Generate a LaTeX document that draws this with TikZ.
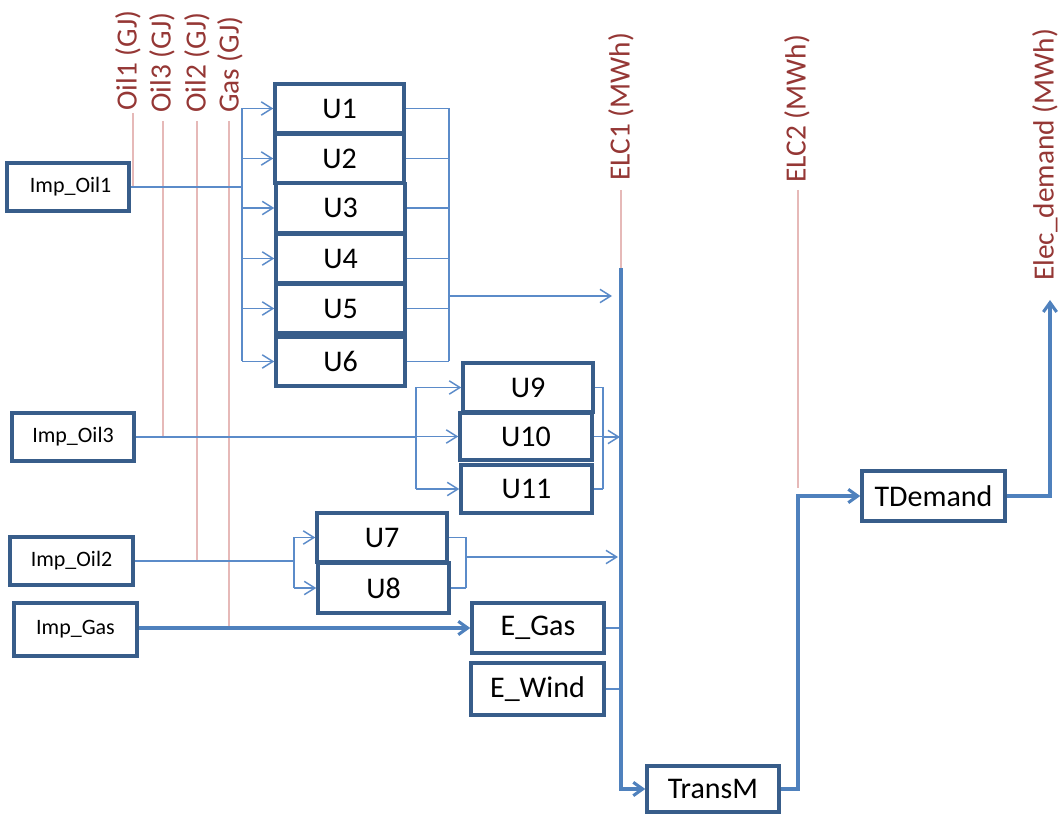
\documentclass[tikz,border=0pt]{standalone}
\usepackage{fontspec}
\setmainfont{Carlito}
\usetikzlibrary{arrows.meta}
\definecolor{boxc}{HTML}{385D8A}
\definecolor{linec}{HTML}{5B8BC9}
\definecolor{fatc}{HTML}{4F81BD}
\definecolor{pinkc}{HTML}{E6B9B8}
\definecolor{labc}{HTML}{953735}
\begin{document}
\begin{tikzpicture}[x=0.75pt,y=-0.75pt,
  ubox/.style={draw=boxc,line width=2.6pt,fill=white,inner sep=0pt,
    font=\fontsize{22.5}{25}\selectfont},
  ibox/.style={draw=boxc,line width=2.6pt,fill=white,inner sep=0pt,
    font=\fontsize{16.5}{19}\selectfont},
  lab/.style={rotate=90,anchor=west,inner sep=0pt,text=labc,
    font=\fontsize{22}{25}\selectfont},
  conn/.style={draw=linec,line width=1.1pt},
  conna/.style={conn,-{Straight Barb[length=8pt,width=10pt]}},
  fat/.style={draw=fatc,line width=2.3pt},
  fata/.style={fat,-{Straight Barb[length=7pt,width=10pt]}},
  pinkline/.style={draw=pinkc,line width=1.6pt}]
\useasboundingbox (0,0) rectangle (1061,816);

% ---- labels
\node[lab] (lOil1) at (128,111) {Oil1 (GJ)};
\node[lab] (lOil3) at (162,113) {Oil3 (GJ)};
\node[lab] (lOil2) at (197,113) {Oil2 (GJ)};
\node[lab] (lGas)  at (230,113) {Gas (GJ)};
\node[lab] (lELC1) at (621,181) {ELC1 (MWh)};
\node[lab] (lELC2) at (797,183) {ELC2 (MWh)};
\node[lab] (lDem)  at (1045,281) {Elec\_demand (MWh)};

% ---- import boxes
\node[ibox,minimum width=122*0.75pt,minimum height=48*0.75pt] (io1) at (68,187) {\hspace*{4pt}Imp\_Oil1};
\node[ibox,minimum width=122*0.75pt,minimum height=48*0.75pt] (io3) at (73,437) {Imp\_Oil3};
\node[ibox,minimum width=123*0.75pt,minimum height=48*0.75pt] (io2) at (71.5,561) {Imp\_Oil2};
\node[ibox,minimum width=123*0.75pt,minimum height=53*0.75pt] (ig) at (75.5,629.5) {Imp\_Gas};

% ---- units
\node[ubox,minimum width=129*0.75pt,minimum height=49*0.75pt] (U1) at (339.5,108.5) {U1};
\node[ubox,minimum width=129*0.75pt,minimum height=49*0.75pt] (U2) at (339.5,158.5) {U2};
\node[ubox,minimum width=129*0.75pt,minimum height=49*0.75pt] (U3) at (340.5,208) {U3};
\node[ubox,minimum width=129*0.75pt,minimum height=49*0.75pt] (U4) at (340.5,258.5) {U4};
\node[ubox,minimum width=129*0.75pt,minimum height=49*0.75pt] (U5) at (340.5,308.5) {U5};
\node[ubox,minimum width=129*0.75pt,minimum height=49*0.75pt] (U6) at (340.5,361.5) {U6};
\node[ubox,minimum width=130*0.75pt,minimum height=49*0.75pt] (U9) at (528,387.5) {U9};
\node[ubox,minimum width=132*0.75pt,minimum height=47*0.75pt] (U10) at (526,436.5) {U10};
\node[ubox,minimum width=131*0.75pt,minimum height=48*0.75pt] (U11) at (526.5,489) {U11};
\node[ubox,minimum width=130*0.75pt,minimum height=49*0.75pt] (U7) at (382,537.5) {U7};
\node[ubox,minimum width=131*0.75pt,minimum height=50*0.75pt] (U8) at (383.5,588) {U8};
\node[ubox,minimum width=132*0.75pt,minimum height=50*0.75pt] (EGas) at (538,628) {E\_Gas};
\node[ubox,minimum width=133*0.75pt,minimum height=52*0.75pt] (EWind) at (537.5,689) {E\_Wind};
\node[ubox,minimum width=132*0.75pt,minimum height=46*0.75pt] (TransM) at (713,789) {TransM};
\node[ubox,minimum width=143*0.75pt,minimum height=50*0.75pt] (TDem) at (933.5,496) {TDemand};

% ---- commodity coordinates
\coordinate (pOil1t) at (133,113);
\coordinate (pOil1b) at (133,187);
\coordinate (pOil3t) at (163,121);
\coordinate (pOil3b) at (163,437);
\coordinate (pOil2t) at (197,121);
\coordinate (pOil2b) at (197,561);
\coordinate (pGast)  at (229,121);
\coordinate (pGasb)  at (229,628);
\coordinate (pE1t) at (621,190);
\coordinate (pE1m) at (621,268);
\coordinate (pE2t) at (798,190);
\coordinate (pE2m) at (798,488);
\coordinate (pE2c) at (798,496);
\coordinate (pDem) at (1050,300);

\draw[pinkline] (pOil1t) -- (pOil1b);
\draw[pinkline] (pOil3t) -- (pOil3b);
\draw[pinkline] (pOil2t) -- (pOil2b);
\draw[pinkline] (pGast) -- (pGasb);
\draw[pinkline] (pE1t) -- (pE1m);
\draw[pinkline] (pE2t) -- (pE2m);

% ---- group U1-U6
\coordinate (bl1) at (242,187);
\coordinate (br1) at (449,296);
\coordinate (e1a) at (612,296);
\draw[conn] (io1.east) -- (bl1);
\draw[conn] (U1.west -| bl1) -- (U6.west -| bl1);
\foreach \u in {U1,U2,U3,U4,U5,U6}{
  \draw[conna] (\u.west -| bl1) -- (\u.west);
  \draw[conn] (\u.east) -- (\u.east -| br1);
}
\draw[conn] (U1.east -| br1) -- (U6.east -| br1);
\draw[conna] (br1) -- (e1a);

% ---- group U9-U11
\coordinate (bl2) at (416,437);
\coordinate (br2) at (603,437);
\coordinate (e1b) at (620,437);
\draw[conn] (io3.east) -- (bl2);
\draw[conn] (U9.west -| bl2) -- (U11.west -| bl2);
\foreach \u in {U9,U10,U11}{
  \draw[conna] (\u.west -| bl2) -- (\u.west);
  \draw[conn] (\u.east) -- (\u.east -| br2);
}
\draw[conn] (U9.east -| br2) -- (U11.east -| br2);
\draw[conna] (br2) -- (e1b);

% ---- group U7-U8
\coordinate (bl3) at (294,561);
\coordinate (br3) at (466,557);
\coordinate (e1c) at (618,557);
\draw[conn] (io2.east) -- (bl3);
\draw[conn] (U7.west -| bl3) -- (U8.west -| bl3);
\foreach \u in {U7,U8}{
  \draw[conna] (\u.west -| bl3) -- (\u.west);
  \draw[conn] (\u.east) -- (\u.east -| br3);
}
\draw[conn] (U7.east -| br3) -- (U8.east -| br3);
\draw[conna] (br3) -- (e1c);

% ---- gas and electricity
\draw[fata] (ig.east |- EGas.west) -- (EGas.west);
\draw[conn,line width=1.6pt] (EGas.east) -- (EGas.east -| pE1m);
\draw[conn,line width=1.6pt] (EWind.east) -- (EWind.east -| pE1m);
\draw[fata] (pE1m) |- (TransM.west);
\draw[fata] (TransM.east) -| (pE2c) -- (TDem.west);
\draw[fata] (TDem.east) -| (pDem);
\end{tikzpicture}
\end{document}
